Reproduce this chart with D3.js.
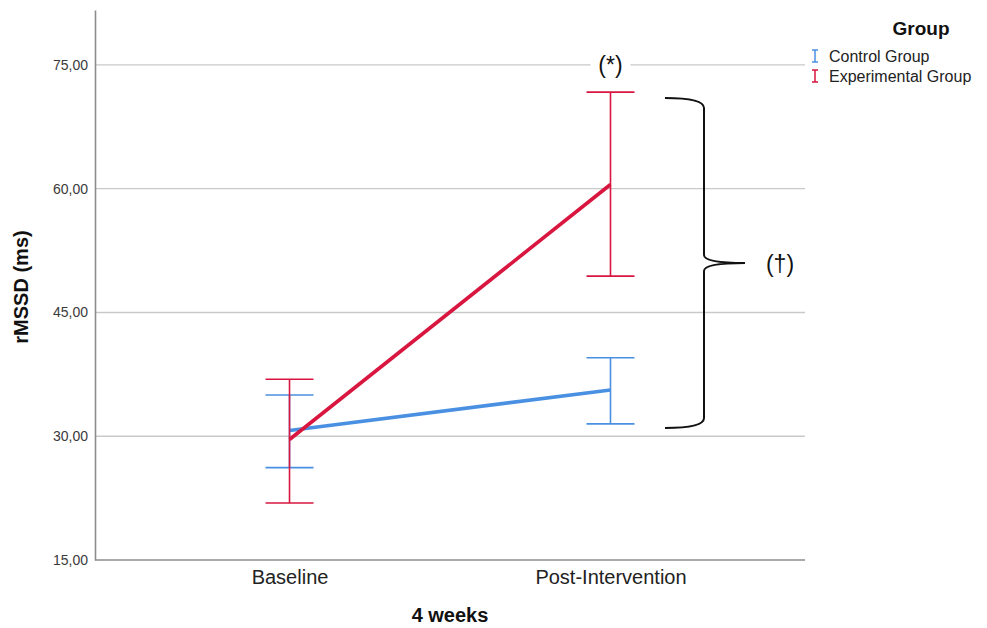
<!DOCTYPE html>
<html>
<head>
<meta charset="utf-8">
<script src="https://cdn.jsdelivr.net/npm/d3@7"></script>
<style>
  body { margin: 0; background: #fff; }
  svg { font-family: "Liberation Sans", Arial, sans-serif; }
</style>
</head>
<body>
<div id="graph"></div>
<script>
const timepoints = ["Baseline", "Post-Intervention"];
const groups = ["Control Group", "Experimental Group"];
const means = [[30.7, 35.6], [29.6, 60.5]];
const upper = [[35.0, 39.5], [36.9, 71.7]];
const lower = [[26.2, 31.5], [21.9, 49.4]];
const yTicks = [15, 30, 45, 60, 75];
const colors = ["#4a90e2", "#d8163f"];
const braceSpan = [71.0, 31.0];

const w = 987, h = 628;
const m = { top: 10, right: 182, bottom: 68, left: 95 };

const svg = d3.select("#graph").append("svg").attr("width", w).attr("height", h);

const x = d3.scalePoint().domain(timepoints).range([m.left, w - m.right]).padding(0.606);
const y = d3.scaleLinear().domain([15, 81.65]).range([h - m.bottom, m.top]);

// grid
svg.append("g")
  .selectAll("line")
  .data(yTicks.slice(1))
  .enter()
  .append("line")
  .attr("x1", m.left).attr("x2", w - m.right)
  .attr("y1", (d) => y(d)).attr("y2", (d) => y(d))
  .attr("stroke", "#c9c9c9").attr("stroke-width", 1.4);

// y axis
const yAxis = svg.append("g")
  .attr("transform", `translate(${m.left},0)`)
  .call(d3.axisLeft(y).tickValues(yTicks).tickSize(0).tickPadding(7).tickFormat((d) => d3.format(".2f")(d).replace(".", ",")));
yAxis.select(".domain").attr("stroke", "#8c8c8c").attr("stroke-width", 1.6);
yAxis.selectAll("text").attr("font-size", 14).attr("fill", "#3a3a3a").attr("font-family", "Liberation Sans, Arial, sans-serif");

// x axis
const xAxis = svg.append("g")
  .attr("transform", `translate(0,${h - m.bottom})`)
  .call(d3.axisBottom(x).tickSize(0).tickPadding(10));
xAxis.select(".domain").attr("stroke", "#8c8c8c").attr("stroke-width", 1.6).attr("d", `M${m.left},0H${w - m.right}`);
xAxis.selectAll("text").attr("font-size", 20).attr("fill", "#222").attr("font-family", "Liberation Sans, Arial, sans-serif");

// axis titles
svg.append("text")
  .attr("transform", `translate(21,${(m.top + h - m.bottom) / 2 + 2}) rotate(-90)`)
  .attr("text-anchor", "middle").attr("dy", "0.35em").attr("font-size", 20).attr("font-weight", "bold").attr("fill", "#111")
  .text("rMSSD (ms)");
svg.append("text")
  .attr("x", (m.left + w - m.right) / 2).attr("y", 615).attr("dy", "0.35em")
  .attr("text-anchor", "middle").attr("font-size", 20).attr("font-weight", "bold").attr("fill", "#111")
  .text("4 weeks");

// series
const capW = 24;
groups.forEach((g, gi) => {
  const s = svg.append("g");
  timepoints.forEach((t, ti) => {
    const cx = x(t);
    s.append("line").attr("x1", cx).attr("x2", cx).attr("y1", y(upper[gi][ti])).attr("y2", y(lower[gi][ti]))
      .attr("stroke", colors[gi]).attr("stroke-width", 1.6);
    [upper[gi][ti], lower[gi][ti]].forEach((v) => {
      s.append("line").attr("x1", cx - capW).attr("x2", cx + capW).attr("y1", y(v)).attr("y2", y(v))
        .attr("stroke", colors[gi]).attr("stroke-width", 1.6);
    });
  });
  s.append("path")
    .datum(timepoints.map((t, ti) => [x(t), y(means[gi][ti])]))
    .attr("d", d3.line())
    .attr("fill", "none").attr("stroke", colors[gi]).attr("stroke-width", 3.6);
});

// (*) annotation
const star = svg.append("g").attr("transform", `translate(${x(timepoints[1])},${y(75)})`);
star.append("rect").attr("x", -20).attr("y", -13).attr("width", 40).attr("height", 26).attr("fill", "#fff");
star.append("text").attr("text-anchor", "middle").attr("dy", "0.35em").attr("font-size", 23).attr("fill", "#111").text("(*)");

// brace
const bTop = y(braceSpan[0]), bBot = y(braceSpan[1]), bMid = (bTop + bBot) / 2;
const bx0 = 665, bx1 = 704, bTip = 745;
svg.append("path")
  .attr("d", `M${bx0},${bTop} Q${bx1},${bTop} ${bx1},${bTop + 10} L${bx1},${bMid - 8} Q${bx1},${bMid} ${bTip},${bMid}` +
    ` Q${bx1},${bMid} ${bx1},${bMid + 8} L${bx1},${bBot - 10} Q${bx1},${bBot} ${bx0},${bBot}`)
  .attr("fill", "none").attr("stroke", "#111").attr("stroke-width", 2);
svg.append("text").attr("x", 780).attr("y", bMid + 1).attr("dy", "0.35em").attr("text-anchor", "middle")
  .attr("font-size", 23).attr("fill", "#111").text("(†)");

// legend
const legend = svg.append("g");
legend.append("text").attr("x", 921).attr("y", 35).attr("text-anchor", "middle")
  .attr("font-size", 19).attr("font-weight", "bold").attr("fill", "#111").text("Group");
groups.forEach((g, gi) => {
  const ly = 56 + gi * 20;
  const li = legend.append("g").attr("transform", `translate(815,${ly})`).attr("stroke", colors[gi]).attr("stroke-width", 1.5);
  li.append("line").attr("x1", 0).attr("x2", 0).attr("y1", -6).attr("y2", 6);
  li.append("line").attr("x1", -3).attr("x2", 3).attr("y1", -6).attr("y2", -6);
  li.append("line").attr("x1", -3).attr("x2", 3).attr("y1", 6).attr("y2", 6);
  legend.append("text").attr("x", 829).attr("y", ly).attr("dy", "0.35em")
    .attr("font-size", 16).attr("fill", "#222").text(g);
});
</script>
</body>
</html>
